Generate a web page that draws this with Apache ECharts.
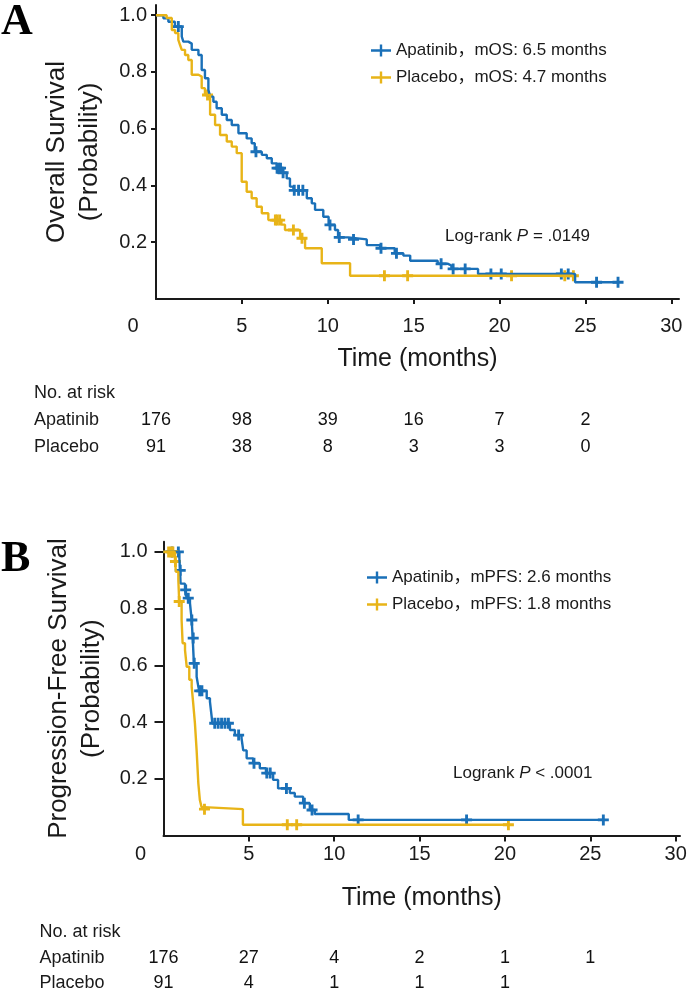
<!DOCTYPE html>
<html>
<head>
<meta charset="utf-8">
<script src="https://cdn.jsdelivr.net/npm/echarts@6/dist/echarts.min.js"></script>
<style>
html,body{margin:0;padding:0;background:#fff;}
#chart{width:688px;height:989px;}
</style>
</head>
<body>
<div id="chart"></div>
<script>
// ---------- Data ----------
const xTicks = [0, 5, 10, 15, 20, 25, 30];
const yTicks = [0.2, 0.4, 0.6, 0.8, 1.0];
const riskRows = ['No. at risk', 'Apatinib', 'Placebo'];
const riskTimes = [0, 5, 10, 15, 20, 25];

// Panel A: Overall survival
const osApaT = [0, 0.43, 0.72, 1.1, 1.5, 1.59, 1.88, 2.08, 2.47, 2.66, 2.85, 3.05, 3.15, 3.34, 3.53, 3.83, 4.12, 4.41, 4.8, 5.28, 5.57, 5.75, 6.16, 6.45, 6.74, 7.03, 7.3, 7.61, 7.8, 8.0, 8.78, 9.07, 9.26, 9.74, 10.05, 10.42, 10.6, 11.2, 12.27, 13.05, 13.9, 14.4, 14.8, 16.4, 17.0, 17.2, 18.75, 24.4, 26.9];
const osApaS = [1, 0.989, 0.977, 0.96, 0.925, 0.907, 0.9, 0.878, 0.86, 0.807, 0.778, 0.737, 0.713, 0.695, 0.672, 0.649, 0.631, 0.613, 0.584, 0.566, 0.549, 0.519, 0.508, 0.496, 0.478, 0.461, 0.445, 0.425, 0.396, 0.383, 0.355, 0.337, 0.314, 0.29, 0.261, 0.243, 0.217, 0.21, 0.19, 0.179, 0.161, 0.153, 0.135, 0.124, 0.118, 0.106, 0.088, 0.059, 0.059];
const osApaCens = [1.3, 5.82, 7.05, 7.15, 7.25, 7.4, 8.05, 8.3, 8.55, 10.13, 10.67, 11.5, 13.1, 14.0, 16.6, 17.3, 18.0, 19.5, 20.1, 23.6, 24.0, 25.65, 26.9];
const osPlaT = [0, 0.62, 0.92, 1.11, 1.3, 1.4, 1.5, 1.69, 1.88, 2.08, 2.47, 2.66, 2.85, 3.15, 3.44, 3.73, 4.12, 4.41, 4.7, 4.99, 5.28, 5.57, 5.86, 6.16, 6.54, 7.3, 7.51, 8.39, 8.68, 9.65, 11.3, 24.3];
const osPlaS = [1, 0.99, 0.948, 0.937, 0.913, 0.895, 0.878, 0.86, 0.842, 0.79, 0.784, 0.743, 0.719, 0.649, 0.613, 0.578, 0.555, 0.537, 0.514, 0.413, 0.378, 0.355, 0.325, 0.302, 0.278, 0.262, 0.243, 0.214, 0.179, 0.126, 0.082, 0.082];
const osPlaCens = [3.0, 6.95, 7.05, 7.2, 8.0, 8.5, 13.3, 14.65, 20.7, 23.8, 24.3];
const osRiskApa = [176, 98, 39, 16, 7, 2];
const osRiskPla = [91, 38, 8, 3, 3, 0];

// Panel B: Progression-free survival
const pfsApaT = [0, 0.93, 0.97, 1.0, 1.26, 1.36, 1.55, 1.65, 1.71, 1.78, 1.94, 2.04, 2.1, 2.53, 2.72, 2.82, 2.86, 3.89, 4.18, 4.57, 4.67, 4.87, 5.25, 5.64, 6.0, 6.42, 6.71, 7.4, 7.69, 8.18, 8.57, 8.86, 10.85, 25.76];
const pfsApaS = [1, 0.976, 0.935, 0.888, 0.866, 0.837, 0.819, 0.76, 0.696, 0.607, 0.56, 0.525, 0.51, 0.484, 0.472, 0.419, 0.396, 0.372, 0.354, 0.343, 0.30, 0.272, 0.255, 0.237, 0.22, 0.196, 0.166, 0.15, 0.137, 0.114, 0.09, 0.076, 0.055, 0.055];
const pfsApaCens = [0.5, 0.87, 0.98, 1.3, 1.45, 1.66, 1.74, 1.8, 2.12, 2.25, 3.0, 3.2, 3.4, 3.6, 3.8, 4.4, 5.3, 6.05, 6.25, 7.2, 8.25, 8.7, 11.4, 17.75, 25.76];
const pfsPlaT = [0, 0.67, 0.73, 0.87, 0.92, 1.06, 1.12, 1.26, 1.36, 1.51, 1.65, 1.74, 1.84, 1.94, 2.04, 2.13, 2.23, 2.38, 4.65, 20.2];
const pfsPlaS = [1, 0.966, 0.93, 0.90, 0.825, 0.76, 0.678, 0.654, 0.595, 0.549, 0.525, 0.466, 0.396, 0.30, 0.184, 0.125, 0.10, 0.093, 0.038, 0.038];
const pfsPlaCens = [0.3, 0.45, 0.55, 0.7, 0.92, 2.4, 7.25, 7.8, 20.2];
const pfsRiskApa = [176, 27, 4, 2, 1, 1];
const pfsRiskPla = [91, 4, 1, 1, 1];

const legendA = ['Apatinib，mOS: 6.5 months', 'Placebo，mOS: 4.7 months'];
const legendB = ['Apatinib，mPFS: 2.6 months', 'Placebo，mPFS: 1.8 months'];

// ---------- Helpers ----------
const BLUE = '#1a70b8', GOLD = '#e8b418', INK = '#1a1a1a';
const FONT = "'Liberation Sans', Arial, 'Noto Sans CJK SC', sans-serif";
const PLUS = 'path://M-1.3,-5H1.3V-1.3H5V1.3H1.3V5H-1.3V1.3H-5V-1.3H-1.3Z';
const LEG_ICON = 'path://M0,4.8H8.8V0H11.2V4.8H20V7.2H11.2V12H8.8V7.2H0Z';

function pairs(T, S) { return T.map((t, i) => [t, S[i]]); }
function survAt(T, S, t) { let s = S[0]; for (let i = 0; i < T.length; i++) if (T[i] <= t) s = S[i]; return s; }
function cens(T, S, C) { return C.map(t => [t, survAt(T, S, t)]); }
function riskData(row, vals) { return vals.map((v, i) => [riskTimes[i], row, v]); }

function kmLine(name, T, S, color, axis) {
  return { type: 'line', name, xAxisIndex: axis, yAxisIndex: axis, step: 'end', data: pairs(T, S),
    symbol: 'none', lineStyle: { color, width: 2.4 }, itemStyle: { color }, silent: true, animation: false };
}
function censSeries(name, T, S, C, color, axis) {
  return { type: 'scatter', name, xAxisIndex: axis, yAxisIndex: axis, data: cens(T, S, C),
    symbol: PLUS, symbolSize: 11, itemStyle: { color, opacity: 1 }, silent: true, animation: false };
}
function riskSeries(name, row, vals, axis) {
  return { type: 'scatter', name, xAxisIndex: axis, yAxisIndex: axis, data: riskData(row, vals),
    symbolSize: 1, itemStyle: { color: 'rgba(0,0,0,0)', opacity: 1 }, silent: true, animation: false,
    label: { show: true, position: 'inside', opacity: 1, textBorderWidth: 0, formatter: p => String(p.value[2]),
      fontSize: 18, fontFamily: FONT, color: '#111' } };
}

function mainX(grid, max, tickLen, labelMargin, nameGap) {
  return { type: 'value', gridIndex: grid, min: 0, max,
    name: 'Time (months)', nameLocation: 'middle', nameGap,
    nameTextStyle: { fontSize: 25, fontFamily: FONT, color: INK },
    axisLine: { lineStyle: { color: INK, width: 2 } },
    axisTick: { show: true, length: tickLen, customValues: xTicks.slice(1), lineStyle: { color: INK, width: 2 } },
    axisLabel: { customValues: xTicks, margin: labelMargin, fontSize: 20, fontFamily: FONT, color: INK,
      formatter: v => v === 0 ? '{z|0}' : String(v),
      rich: { z: { fontSize: 20, fontFamily: FONT, color: INK, padding: [0, 46, 0, 0] } } },
    splitLine: { show: false } };
}
function mainY(grid, title, tickLen, labelMargin, nameGap) {
  return { type: 'value', gridIndex: grid, min: 0, max: 1.036,
    name: title, nameLocation: 'middle', nameRotate: 90, nameGap,
    nameTextStyle: { fontSize: 26, lineHeight: 33, fontFamily: FONT, color: INK, align: 'center' },
    axisLine: { show: true, lineStyle: { color: INK, width: 2 } },
    axisTick: { show: true, length: tickLen, customValues: yTicks, lineStyle: { color: INK, width: 2 } },
    axisLabel: { customValues: yTicks, margin: labelMargin, fontSize: 20, fontFamily: FONT, color: INK, formatter: v => v.toFixed(1) },
    splitLine: { show: false } };
}
function riskX(grid, max) { return { type: 'value', gridIndex: grid, min: 0, max, show: false }; }
function riskY(grid, margin) {
  return { type: 'category', gridIndex: grid, data: riskRows, inverse: true,
    axisLine: { show: false }, axisTick: { show: false }, splitLine: { show: false },
    axisLabel: { interval: 0, align: 'left', margin, fontSize: 18, fontFamily: FONT, color: INK } };
}

const richP = { n: { fontSize: 17, fontFamily: FONT, fontWeight: 'normal', color: INK },
                i: { fontSize: 17, fontFamily: FONT, fontWeight: 'normal', fontStyle: 'italic', color: INK } };
const serifBold = { fontFamily: "'Liberation Serif', 'Times New Roman', serif", fontWeight: 'bold', fontSize: 44, color: '#000' };

const option = {
  backgroundColor: '#fff',
  animation: false,
  textStyle: { fontFamily: FONT },
  title: [
    { text: 'A', left: 1, top: 1, padding: 0, textStyle: serifBold },
    { text: 'B', left: 1, top: 538, padding: 0, textStyle: serifBold },
    { text: '{n|Log-rank }{i|P}{n| = .0149}', left: 445, top: 228, padding: 0, textStyle: { fontWeight: 'normal', rich: richP } },
    { text: '{n|Logrank }{i|P}{n| < .0001}', left: 453, top: 765, padding: 0, textStyle: { fontWeight: 'normal', rich: richP } }
  ],
  legend: [
    { data: legendA, orient: 'vertical', left: 371, top: 42, itemWidth: 20, itemHeight: 12, itemGap: 10, icon: LEG_ICON,
      selectedMode: false, padding: 0, textStyle: { fontSize: 17, fontFamily: FONT, color: INK } },
    { data: legendB, orient: 'vertical', left: 367, top: 569, itemWidth: 20, itemHeight: 12, itemGap: 10, icon: LEG_ICON,
      selectedMode: false, padding: 0, textStyle: { fontSize: 17, fontFamily: FONT, color: INK } }
  ],
  grid: [
    { left: 156, top: 5, width: 523, height: 294, outerBoundsMode: 'none' },
    { left: 156, top: 379.5, width: 523, height: 81, outerBoundsMode: 'none' },
    { left: 163.5, top: 541.7, width: 516.5, height: 293.8, outerBoundsMode: 'none' },
    { left: 163.5, top: 919.5, width: 516.5, height: 76.5, outerBoundsMode: 'none' }
  ],
  xAxis: [
    mainX(0, 30.45, 5, 17, 48),
    riskX(1, 30.45),
    mainX(2, 30.25, 6, 9, 50),
    riskX(3, 30.25)
  ],
  yAxis: [
    mainY(0, 'Overall Survival\n(Probability)', 5, 9, 50),
    riskY(1, 122),
    mainY(2, 'Progression-Free Survival\n(Probability)', 9, 16, 53),
    riskY(3, 124)
  ],
  series: [
    kmLine(legendA[0], osApaT, osApaS, BLUE, 0),
    kmLine(legendA[1], osPlaT, osPlaS, GOLD, 0),
    censSeries('Apatinib censored (OS)', osApaT, osApaS, osApaCens, BLUE, 0),
    censSeries('Placebo censored (OS)', osPlaT, osPlaS, osPlaCens, GOLD, 0),
    riskSeries('Apatinib at risk (OS)', 'Apatinib', osRiskApa, 1),
    riskSeries('Placebo at risk (OS)', 'Placebo', osRiskPla, 1),
    kmLine(legendB[0], pfsApaT, pfsApaS, BLUE, 2),
    kmLine(legendB[1], pfsPlaT, pfsPlaS, GOLD, 2),
    censSeries('Apatinib censored (PFS)', pfsApaT, pfsApaS, pfsApaCens, BLUE, 2),
    censSeries('Placebo censored (PFS)', pfsPlaT, pfsPlaS, pfsPlaCens, GOLD, 2),
    riskSeries('Apatinib at risk (PFS)', 'Apatinib', pfsRiskApa, 3),
    riskSeries('Placebo at risk (PFS)', 'Placebo', pfsRiskPla, 3)
  ]
};

const chart = echarts.init(document.getElementById('chart'), null, { renderer: 'canvas' });
chart.setOption(option);
</script>
</body>
</html>
